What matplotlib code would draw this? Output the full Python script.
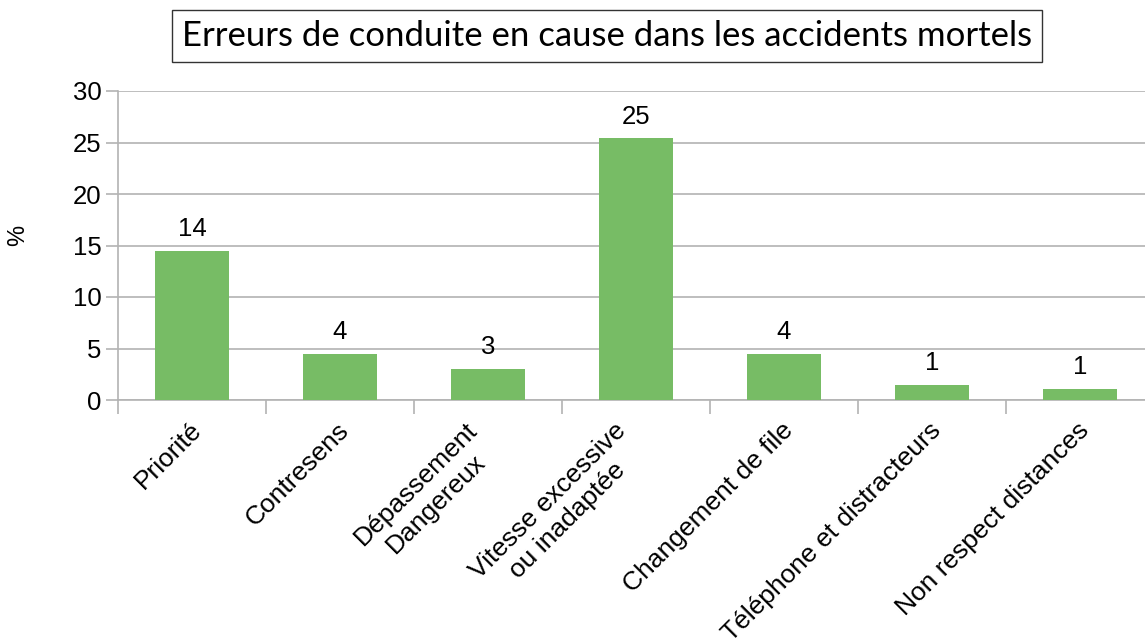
import matplotlib.pyplot as plt
import matplotlib.transforms as mtransforms
import numpy as np

categories = ['Priorité', 'Contresens', 'Dépassement\nDangereux', 'Vitesse excessive\nou inadaptée',
              'Changement de file', 'Téléphone et distracteurs', 'Non respect distances']
values = [14.45, 4.5, 3.0, 25.4, 4.5, 1.5, 1.05]
value_labels = ['14', '4', '3', '25', '4', '1', '1']

green = '#77bc65'
gridc = '#b3b3b3'

plt.rcParams['font.family'] = ['Liberation Sans', 'DejaVu Sans']

fig = plt.figure(figsize=(11.45, 6.4), dpi=100)
ax = fig.add_axes([118/1145, 1-400/640, 1036/1145, 309/640])

x = np.arange(len(categories))
ax.bar(x, values, width=0.505, color=green, zorder=3)
for xi, v, lab in zip(x, values, value_labels):
    ax.annotate(lab, (xi, v), xytext=(0, 7), textcoords='offset points',
                ha='center', va='bottom', fontsize=18.5)

ax.set_xlim(-0.5, len(categories) - 0.5)
ax.set_ylim(0, 30)
ax.set_yticks(range(0, 31, 5))
ax.yaxis.grid(True, color=gridc, linewidth=1.2, zorder=0)
ax.tick_params(axis='y', labelsize=18.5, length=9, color=gridc, width=1.2, pad=3)

# rotated labels: bounding box top-right corner sits right of the category centre
ax.set_xticks(x)
ax.set_xticklabels(categories, rotation=45, ha='right', va='top',
                   fontsize=19, multialignment='center')
ax.tick_params(axis='x', which='major', length=0, pad=13)
shift = mtransforms.ScaledTranslation(0.14, 0, fig.dpi_scale_trans)
for lbl in ax.get_xticklabels():
    lbl.set_transform(lbl.get_transform() + shift)
ax.set_xticks(np.arange(-0.5, len(categories), 1), minor=True)
ax.tick_params(axis='x', which='minor', length=10, color=gridc, width=1.2)

for s in ['top', 'right']:
    ax.spines[s].set_visible(False)
for s in ['left', 'bottom']:
    ax.spines[s].set_color(gridc)
    ax.spines[s].set_linewidth(1.2)

fig.text(18/1145, 1-235/640, '%', rotation=90, ha='center', va='center', fontsize=17)

fig.text(607/1145, 1-36/640, 'Erreurs de conduite en cause dans les accidents mortels',
         ha='center', va='center', fontsize=25, family=['Lato', 'DejaVu Sans'],
         bbox=dict(boxstyle='square,pad=0.3', facecolor='white', edgecolor='#333333', linewidth=1))

fig.savefig('out.png', dpi=100)
